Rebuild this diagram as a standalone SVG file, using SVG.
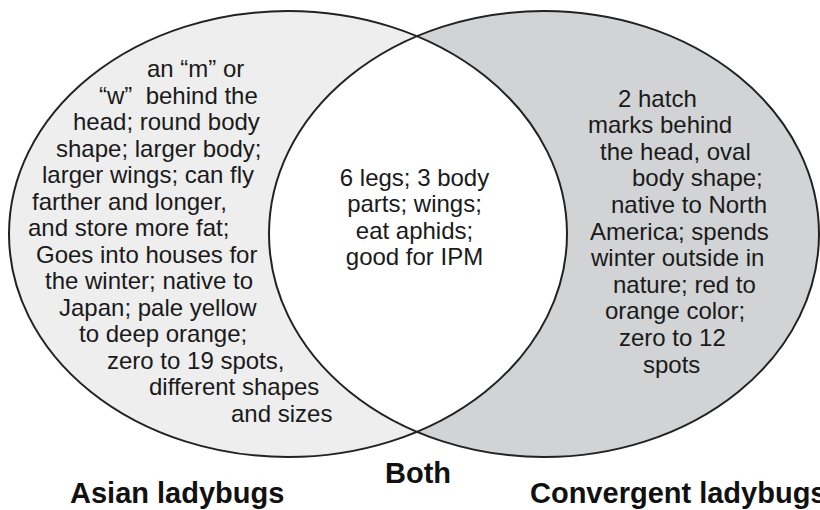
<svg xmlns="http://www.w3.org/2000/svg" width="820" height="510" viewBox="0 0 820 510">
  <style>
    .t { font-family: "Liberation Sans", Arial, Helvetica, sans-serif; font-size: 24px; fill: #1a1a1a; }
    .lbl { font-family: "Liberation Sans", Arial, Helvetica, sans-serif; font-size: 29px; font-weight: bold; fill: #111; }
    .edge { fill: none; stroke: #222; stroke-width: 2; }
  </style>
  <defs>
    <clipPath id="clipLeft">
      <ellipse cx="288" cy="234" rx="279" ry="223"/>
    </clipPath>
  </defs>
  <rect width="820" height="510" fill="#ffffff"/>

  <g id="asian">
    <ellipse cx="288" cy="234" rx="279" ry="223" fill="#eeeeee"/>
  </g>
  <g id="convergent">
    <ellipse cx="544" cy="234" rx="275" ry="223" fill="#d2d3d5"/>
  </g>
  <g id="both">
    <ellipse cx="544" cy="234" rx="275" ry="223" fill="#ffffff" clip-path="url(#clipLeft)"/>
  </g>
  <g id="outlines">
    <ellipse class="edge" cx="288" cy="234" rx="279" ry="223"/>
    <ellipse class="edge" cx="544" cy="234" rx="275" ry="223"/>
  </g>

  <g id="asian-text" class="t">
    <text class="t" x="147" y="77">an “m” or</text>
    <text class="t" x="99" y="103.5">“w”&#160; behind the</text>
    <text class="t" x="73" y="130">head; round body</text>
    <text class="t" x="56" y="156.5">shape; larger body;</text>
    <text class="t" x="42" y="183">larger wings; can fly</text>
    <text class="t" x="32" y="209.5">farther and longer,</text>
    <text class="t" x="28" y="236">and store more fat;</text>
    <text class="t" x="36" y="262.5">Goes into houses for</text>
    <text class="t" x="45" y="289">the winter; native to</text>
    <text class="t" x="59" y="315.5">Japan; pale yellow</text>
    <text class="t" x="79" y="342">to deep orange;</text>
    <text class="t" x="107" y="368.5">zero to 19 spots,</text>
    <text class="t" x="149" y="395">different shapes</text>
    <text class="t" x="231" y="421.5">and sizes</text>
  </g>

  <g id="both-text">
    <text class="t" x="414.5" y="185.5" text-anchor="middle">6 legs; 3 body</text>
    <text class="t" x="414.5" y="212" text-anchor="middle">parts; wings;</text>
    <text class="t" x="414.5" y="238.5" text-anchor="middle">eat aphids;</text>
    <text class="t" x="414.5" y="265" text-anchor="middle">good for IPM</text>
  </g>

  <g id="convergent-text">
    <text class="t" x="618" y="106.5">2 hatch</text>
    <text class="t" x="588" y="133.1">marks behind</text>
    <text class="t" x="600" y="159.7">the head, oval</text>
    <text class="t" x="632" y="186.3">body shape;</text>
    <text class="t" x="611" y="212.9">native to North</text>
    <text class="t" x="590" y="239.5">America; spends</text>
    <text class="t" x="591" y="266.1">winter outside in</text>
    <text class="t" x="613" y="292.7">nature; red to</text>
    <text class="t" x="605" y="319.3">orange color;</text>
    <text class="t" x="619" y="345.9">zero to 12</text>
    <text class="t" x="643" y="372.5">spots</text>
  </g>

  <g id="labels">
    <text class="lbl" x="70" y="503">Asian ladybugs</text>
    <text class="lbl" x="385" y="483">Both</text>
    <text class="lbl" x="530" y="503">Convergent ladybugs</text>
  </g>
</svg>
